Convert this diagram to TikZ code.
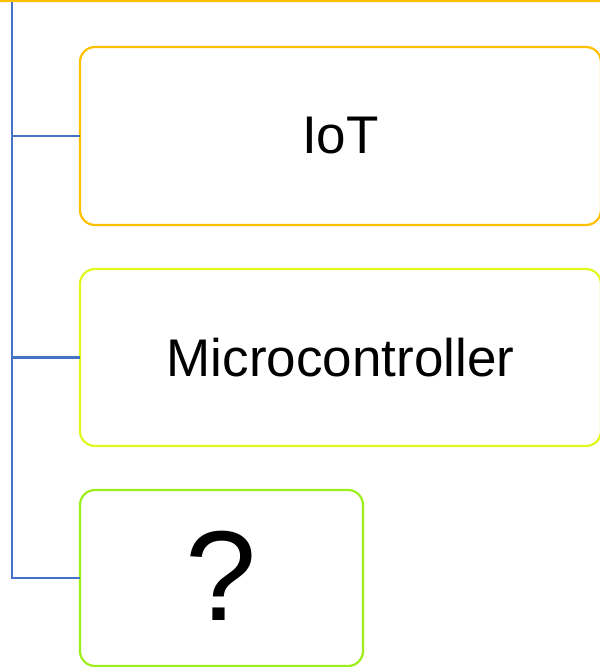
\documentclass[tikz,border=0pt]{standalone}
\usepackage{fontspec}
\setmainfont{Liberation Sans}
\definecolor{cOrange}{HTML}{FFC000}
\definecolor{cYellow}{HTML}{E0F81C}
\definecolor{cGreen}{HTML}{9CEF18}
\definecolor{cBlue}{HTML}{4472C4}
\begin{document}
\begin{tikzpicture}[x=1pt,y=-1pt,
  box/.style={draw, line width=2.2pt, rounded corners=15pt, fill=white, inner sep=0pt, outer sep=0pt, text=black, align=center},
  conn/.style={draw=cBlue, line width=2.2pt}]
\useasboundingbox (0,0) rectangle (600,667);
\clip (0,0) rectangle (600,667);
\node[box, draw=cOrange, minimum width=660pt, minimum height=100pt] (parent) at (300,-49) {};
\node[box, draw=cOrange, minimum width=521pt, minimum height=178pt, font=\fontsize{53}{60}\selectfont] (iot) at (340.5,136) {IoT};
\node[box, draw=cYellow, minimum width=521pt, minimum height=177pt, font=\fontsize{53}{60}\selectfont] (micro) at (340.5,357.5) {Microcontroller};
\node[box, draw=cGreen, minimum width=283pt, minimum height=176pt, font=\fontsize{128}{130}\selectfont] (q) at (221.5,578) {\raisebox{5pt}{?}};
\coordinate (trunk) at (12,2);
\draw[conn] (trunk) |- (iot.west);
\draw[conn] (trunk) |- (micro.west);
\draw[conn] (trunk) |- (q.west);
\end{tikzpicture}
\end{document}
